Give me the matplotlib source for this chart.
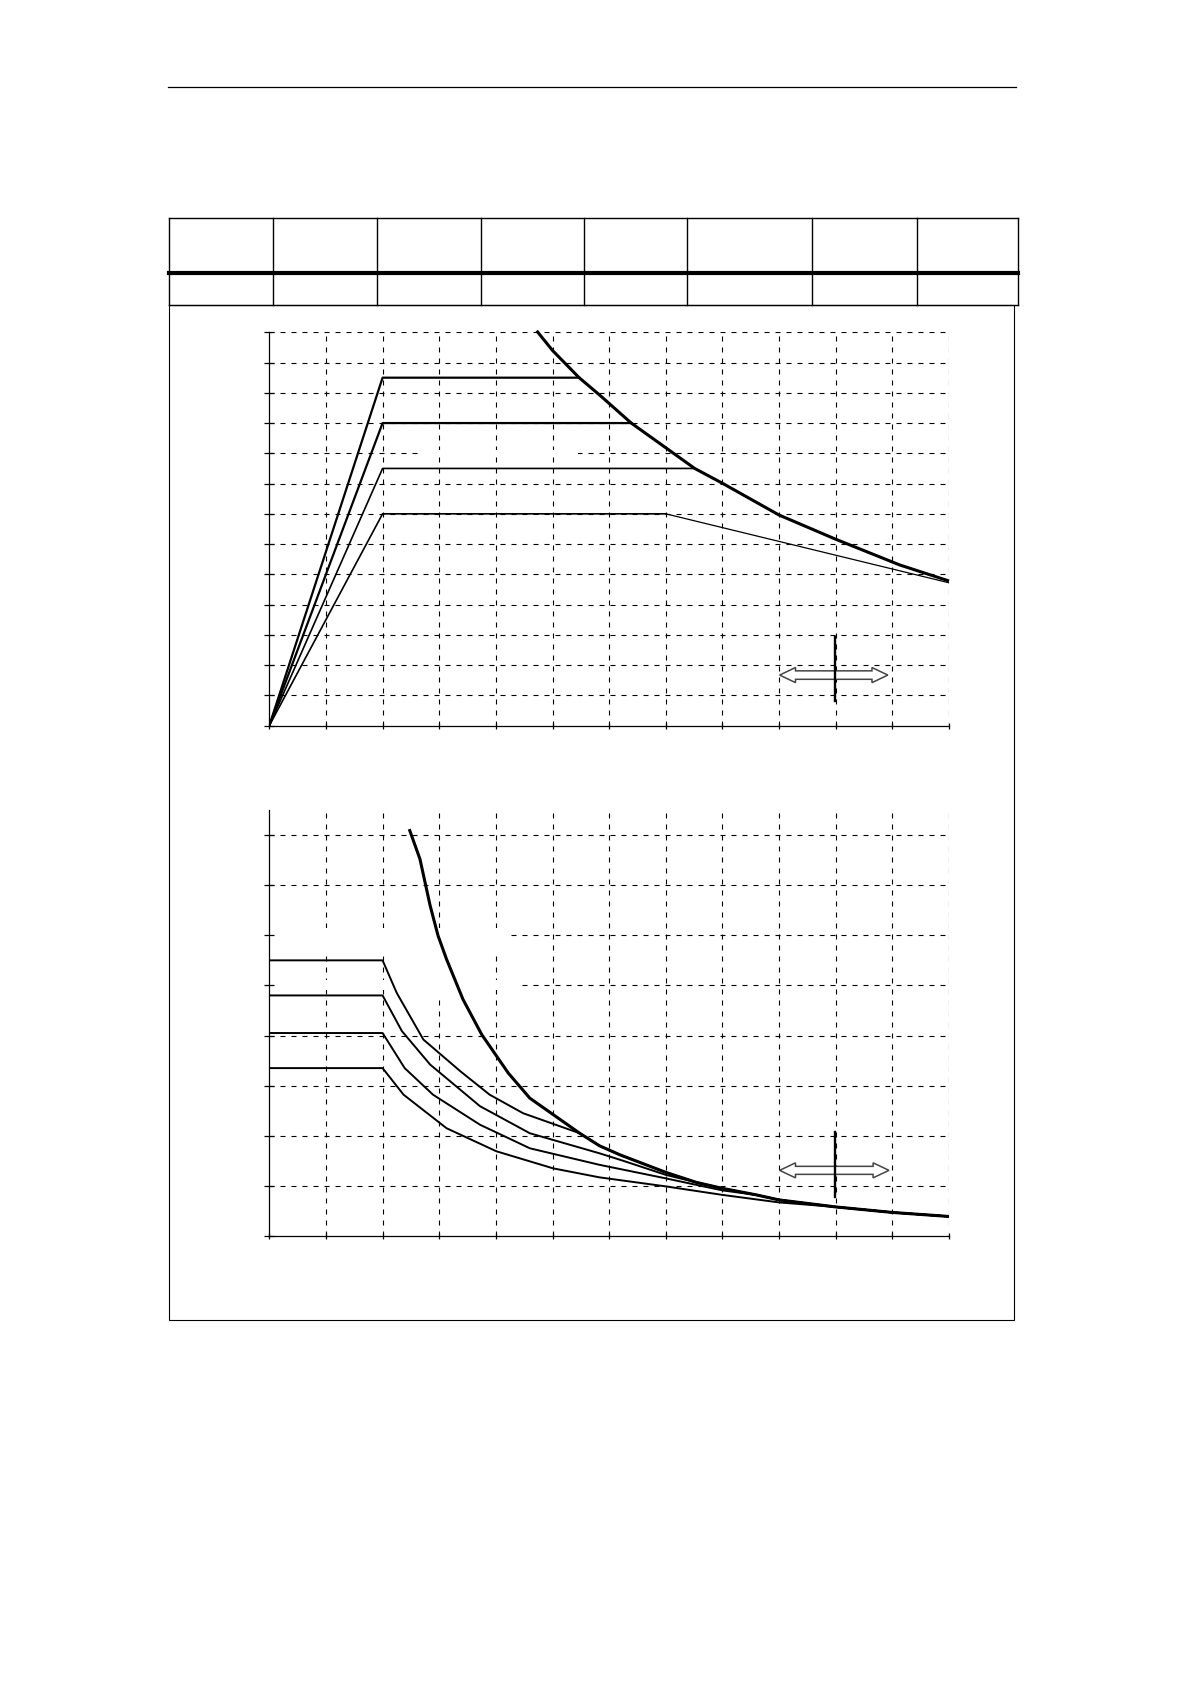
import numpy as np
import matplotlib
matplotlib.use('Agg')
import matplotlib.pyplot as plt
from matplotlib.patches import Polygon, Rectangle

# ---- top chart data (grid units) ----
top_levels = [11.5, 10.0, 8.5, 7.0]
top_corner_x = 2.0
top_plateau_end = [5.47, 6.39, 7.51, 7.0]
top_lw = [1.6, 1.6, 1.2, 1.2]
top_tail_x = [7.0, 12.0]
top_tail_y = [7.0, 4.72]

top_limit_x = [4.72, 5.0, 5.47, 5.83, 6.39, 7.01, 7.51, 8.0, 9.0, 10.0, 11.13, 12.0]
top_limit_y = [13.05, 12.4, 11.5, 10.93, 10.0, 9.17, 8.5, 8.01, 6.96, 6.16, 5.31, 4.78]

# ---- bottom chart data ----
bot_limit_x = [2.48, 2.66, 2.84, 2.98, 3.13, 3.42, 3.75, 4.22, 4.6, 5.48, 5.83, 6.19,
               7.0, 7.54, 8.0, 8.6, 9.0, 10.0, 11.0, 12.0]
bot_limit_y = [8.09, 7.52, 6.59, 5.99, 5.52, 4.72, 4.02, 3.25, 2.75, 2.05, 1.8, 1.62,
               1.27, 1.07, 0.95, 0.82, 0.72, 0.58, 0.47, 0.39]

c1_x = [0, 2, 2.25, 2.72, 3.37, 3.89, 4.48, 5.48]
c1_y = [5.5, 5.5, 4.85, 3.92, 3.29, 2.82, 2.45, 2.05]
c2_x = [0, 2, 2.34, 2.84, 3.72, 4.6, 5.83, 6.25, 7.0, 7.54]
c2_y = [4.8, 4.8, 4.09, 3.42, 2.59, 2.05, 1.65, 1.5, 1.22, 1.07]
c3_x = [0, 2, 2.39, 2.89, 3.72, 4.6, 5.83, 7.0, 8.0, 8.6]
c3_y = [4.05, 4.05, 3.35, 2.82, 2.22, 1.75, 1.42, 1.15, 0.91, 0.82]
c4_x = [0, 2, 2.37, 3.13, 4.01, 5.01, 5.83, 7.0, 8.0, 9.0, 10.0]
c4_y = [3.35, 3.35, 2.82, 2.15, 1.69, 1.35, 1.17, 0.99, 0.82, 0.67, 0.58]

# table column edges / page layout (pixels)
table_cols = [169.4, 273.4, 377.3, 481.3, 584.2, 687.2, 811.5, 916.5, 1018.4]

DASH = (0, (4.5, 5.4))


def setup_axes(ax, ymax, nx, ny):
    ax.set_xlim(0, nx)
    ax.set_ylim(0, ymax)
    ax.set_facecolor('none')
    for s in ['top', 'right']:
        ax.spines[s].set_visible(False)
    for s in ['left', 'bottom']:
        ax.spines[s].set_linewidth(0.9)
    ax.set_xticks(np.arange(0, nx + 1))
    ax.set_yticks(np.arange(0, ny + 1))
    ax.tick_params(axis='y', direction='inout', length=7, width=0.9,
                   labelleft=False)
    ax.tick_params(axis='x', direction='inout', length=5, width=0.9,
                   labelbottom=False)
    for i in range(1, ny + 1):
        ax.axhline(i, color='black', lw=0.8, ls=DASH, zorder=1)
    for i in range(1, nx + 1):
        ax.axvline(i, color='black', lw=0.8, ls=DASH, zorder=1)


def mask(ax, x0, x1, y0, y1):
    ax.add_patch(Rectangle((x0, y0), x1 - x0, y1 - y0, facecolor='white',
                           edgecolor='none', zorder=1.5))


def double_arrow(ax, x0, x1, y, shaft, head, hl, xv, yv0, yv1):
    pts = [(x0, y), (x0 + hl, y + head), (x0 + hl, y + shaft), (x1 - hl, y + shaft),
           (x1 - hl, y + head), (x1, y), (x1 - hl, y - head), (x1 - hl, y - shaft),
           (x0 + hl, y - shaft), (x0 + hl, y - head)]
    ax.add_patch(Polygon(pts, closed=True, facecolor='white', edgecolor='#444444',
                         lw=1.1, zorder=4))
    ax.plot([xv, xv], [yv0, yv1], color='black', lw=1.7, zorder=5)


W, H = 1190, 1684
fig = plt.figure(figsize=(W / 100, H / 100), dpi=100)
fig.patch.set_facecolor('white')

# page decorations
page = fig.add_axes([0, 0, 1, 1])
page.set_xlim(0, W)
page.set_ylim(H, 0)
page.axis('off')
page.plot([168, 1016], [87, 87], color='black', lw=0.9)
page.plot([169.4, 1018.4], [218, 218], color='black', lw=1.0)
page.plot([169.4, 1018.4], [273, 273], color='black', lw=3.0)
page.plot([169.4, 1018.4], [304.5, 304.5], color='black', lw=1.0)
for cx in table_cols:
    page.plot([cx, cx], [218, 304.5], color='black', lw=1.0)
page.add_patch(Rectangle((169.4, 304.5), 1014 - 169.4, 1319.6 - 304.5,
                         facecolor='none', edgecolor='black', lw=0.8))

# ---- top chart ----
ax1 = fig.add_axes([269.3 / W, 1 - 725.6 / H, 679.7 / W, 393.3 / H])
setup_axes(ax1, 13, 12, 13)
mask(ax1, 2.62, 5.45, 8.88, 9.12)
for lev, xe, lw in zip(top_levels, top_plateau_end, top_lw):
    ax1.plot([0, top_corner_x, xe], [0, lev, lev], color='black', lw=lw, zorder=3)
ax1.plot(top_tail_x, top_tail_y, color='black', lw=0.9, zorder=3)
ax1.plot(top_limit_x, top_limit_y, color='black', lw=2.2, zorder=3.5,
         clip_on=False, solid_capstyle='butt', solid_joinstyle='round')
double_arrow(ax1, 9.01, 10.92, 1.67, 0.14, 0.25, 0.28, 9.98, 0.81, 2.94)

# ---- bottom chart ----
ax2 = fig.add_axes([269.3 / W, 1 - 1236 / H, 679.7 / W, 426 / H])
setup_axes(ax2, 8.5, 12, 8)
mask(ax2, 0.02, 4.25, 5.58, 6.14)
mask(ax2, 0.02, 4.46, 4.9, 5.1)
mask(ax2, 2.9, 3.1, 4.78, 5.58)

lim_x = np.array(bot_limit_x)
lim_y = np.array(bot_limit_y)
for cx_, cy_ in [(c1_x, c1_y), (c2_x, c2_y), (c3_x, c3_y), (c4_x, c4_y)]:
    tail = lim_x > cx_[-1]
    ax2.plot(list(cx_) + list(lim_x[tail]), list(cy_) + list(lim_y[tail]),
             color='black', lw=1.4, zorder=3, solid_joinstyle='round')
ax2.plot(bot_limit_x, bot_limit_y, color='black', lw=2.2, zorder=3.5,
         solid_joinstyle='round')
double_arrow(ax2, 9.01, 10.94, 1.31, 0.08, 0.15, 0.28, 9.99, 0.77, 2.07)

fig.savefig('out.png', dpi=100, facecolor='white')
